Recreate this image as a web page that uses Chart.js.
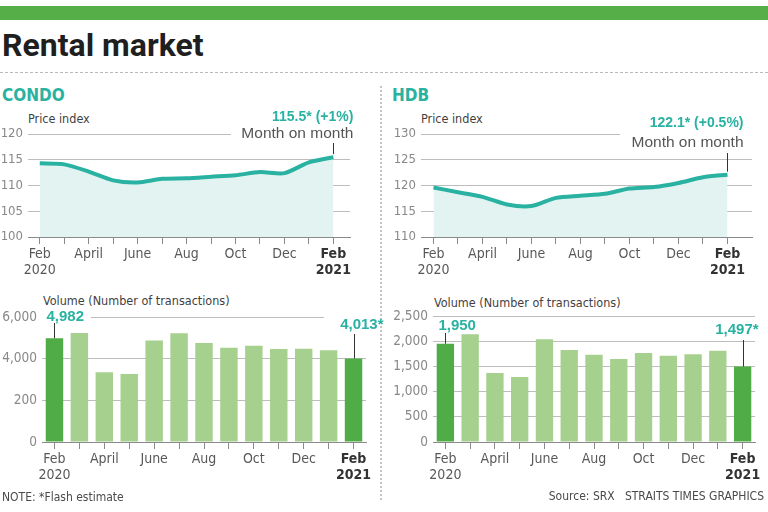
<!DOCTYPE html>
<html>
<head>
<meta charset="utf-8">
<script src="https://cdn.jsdelivr.net/npm/chart.js@4.4.0/dist/chart.umd.min.js"></script>
<style>
  html, body { margin: 0; padding: 0; background: #fff; }
  body { width: 768px; height: 512px; position: relative; overflow: hidden; }
  .abs { position: absolute; white-space: nowrap; }
  canvas.abs { display: block; }
  #topbar { left: 0; top: 6px; width: 768px; height: 14px; background: #55ae48; }
  #title { left: 2px; top: 29px; font: bold 32px/32px Roboto, 'Liberation Sans', sans-serif; color: #1f1f1f; }
  #hrule { left: 0; top: 72px; width: 768px; border-top: 1px dashed #b9b9b9; }
  #vrule { left: 380px; top: 86px; height: 414px; border-left: 2px dotted #c4c4c4; }
  .head { font: bold 17px/17px 'DejaVu Sans Condensed', sans-serif; color: #2ab2a1; }
  .sub { font: 12.5px/13px 'DejaVu Sans Condensed', sans-serif; color: #3f3f3f; }
  .foot { font: 12px/12px 'DejaVu Sans Condensed', sans-serif; color: #4a4a4a; }
</style>
</head>
<body>
<div id="topbar" class="abs"></div>
<div id="title" class="abs">Rental market</div>
<div id="hrule" class="abs"></div>
<div id="vrule" class="abs"></div>

<div class="abs head" style="left:2px; top:87px;">CONDO</div>
<div class="abs head" style="left:392px; top:87px;">HDB</div>
<div class="abs sub" style="left:28px; top:112px;">Price index</div>
<div class="abs sub" style="left:421px; top:112px;">Price index</div>
<div class="abs sub" style="left:43px; top:294px;">Volume (Number of transactions)</div>
<div class="abs sub" style="left:434px; top:296px;">Volume (Number of transactions)</div>

<canvas id="condoPrice" class="abs" width="376" height="186" style="left:0; top:96px;"></canvas>
<canvas id="hdbPrice" class="abs" width="384" height="186" style="left:384px; top:96px;"></canvas>
<canvas id="condoVolume" class="abs" width="384" height="200" style="left:0; top:300px;"></canvas>
<canvas id="hdbVolume" class="abs" width="384" height="200" style="left:384px; top:300px;"></canvas>

<div class="abs foot" style="left:2px; top:491px;">NOTE: *Flash estimate</div>
<div class="abs foot" style="right:4px; top:490px;">Source: SRX&nbsp;&nbsp;&nbsp;STRAITS TIMES GRAPHICS</div>

<script>
// --- data ---
const months = ['Feb 2020', 'Mar', 'Apr', 'May', 'Jun', 'Jul', 'Aug', 'Sep', 'Oct', 'Nov', 'Dec', 'Jan', 'Feb 2021'];
const monthTicks = [['Feb', '2020'], '', 'April', '', 'June', '', 'Aug', '', 'Oct', '', 'Dec', '', ['Feb', '2021']];

const condoPrice = [114.3, 114.1, 112.7, 111.0, 110.6, 111.3, 111.4, 111.7, 112.0, 112.6, 112.4, 114.5, 115.5];
const hdbPrice = [119.6, 118.7, 117.8, 116.3, 116.0, 117.6, 118.0, 118.4, 119.4, 119.7, 120.5, 121.6, 122.1];
const condoVolume = [4982, 5230, 3350, 3270, 4870, 5220, 4750, 4520, 4620, 4460, 4480, 4400, 4013];
const hdbVolume = [1950, 2140, 1370, 1290, 2040, 1825, 1730, 1645, 1765, 1710, 1740, 1810, 1497];

const condoPriceTicks = [100, 105, 110, 115, 120];
const hdbPriceTicks = [110, 115, 120, 125, 130];
const condoVolumeTicks = [0, 2000, 4000, 6000];
const condoVolumeTickLabels = ['0', '200', '4,000', '6,000'];
const hdbVolumeTicks = [0, 500, 1000, 1500, 2000, 2500];
const hdbVolumeTickLabels = ['0', '500', '1,000', '1,500', '2,000', '2,500'];

const condoPriceNote = ['115.5* (+1%)', 'Month on month'];
const hdbPriceNote = ['122.1* (+0.5%)', 'Month on month'];
const condoVolumeNotes = ['4,982', '4,013*'];
const hdbVolumeNotes = ['1,950', '1,497*'];

// --- styles ---
const NARROW = "'DejaVu Sans Condensed', sans-serif";
const WIDE = "'Liberation Sans', Arial, sans-serif";
const TEAL = '#29b2a1';
const FILL = '#e3f3f1';
const DARK_BAR = '#4fac47';
const LIGHT_BAR = '#a6d08e';
const GRID = '#bdbdbd';
const AXIS = '#8a8a8a';
const LAST = months.length - 1;

Chart.defaults.font.family = NARROW;
Chart.defaults.animation = false;

const xTickFont = (c) => ({ family: NARROW, size: 14, lineHeight: 16 / 14, weight: c.index === LAST ? 'bold' : 'normal' });
const xTickColor = (c) => c.index === LAST ? '#333' : '#585858';

// 그리드 끊김 + 주석(값, 지시선) 그리기
const notesPlugin = {
    id: 'notes',
    beforeDatasetsDraw(chart, args, opts) {
        const ctx = chart.ctx;
        ctx.save();
        ctx.fillStyle = '#fff';
        (opts.gaps || []).forEach(g => {
            const y = chart.scales.y.getPixelForValue(g.value);
            ctx.fillRect(g.x0, y - 3, g.x1 - g.x0, 6);
        });
        ctx.restore();
    },
    afterDatasetsDraw(chart, args, opts) {
        const ctx = chart.ctx;
        const meta = chart.getDatasetMeta(0);
        const top = chart.chartArea.top;
        ctx.save();
        (opts.items || []).forEach(it => {
            const el = meta.data[it.index];
            const x = Math.round(el.x) + 0.5;
            ctx.strokeStyle = '#333';
            ctx.lineWidth = 1;
            ctx.beginPath();
            ctx.moveTo(x, top + it.leaderFrom);
            ctx.lineTo(x, el.y - it.leaderGap);
            ctx.stroke();
            ctx.textAlign = it.align;
            ctx.textBaseline = 'middle';
            it.lines.forEach(l => {
                ctx.font = l.font;
                ctx.fillStyle = l.color;
                ctx.fillText(l.text, el.x + it.dx, top + l.dy);
            });
        });
        ctx.restore();
    }
};

function priceChart(id, values, yTicks, yWidth, padRight, xMin, xMax, notes) {
    return new Chart(document.getElementById(id), {
        type: 'line',
        data: {
            datasets: [{
                data: values.map((v, i) => ({ x: i, y: v })),
                borderColor: TEAL,
                borderWidth: 4,
                backgroundColor: FILL,
                fill: 'start',
                tension: 0.25,
                pointRadius: 0
            }]
        },
        options: {
            responsive: false,
            layout: { padding: { top: 38, right: padRight, left: 0, bottom: 0 } },
            plugins: { legend: { display: false }, tooltip: { enabled: false }, notes: notes },
            scales: {
                x: {
                    type: 'linear', min: xMin, max: xMax,
                    afterBuildTicks: s => { s.ticks = months.map((m, i) => ({ value: i })); },
                    afterFit: s => { s.height = 45; },
                    ticks: { callback: v => monthTicks[v], autoSkip: false, maxRotation: 0, padding: 2, font: xTickFont, color: xTickColor },
                    grid: { drawOnChartArea: false, tickLength: 7, color: AXIS },
                    border: { color: AXIS }
                },
                y: {
                    min: yTicks[0], max: yTicks[yTicks.length - 1],
                    afterBuildTicks: s => { s.ticks = yTicks.map(v => ({ value: v })); },
                    afterFit: s => { s.width = yWidth; },
                    ticks: { padding: 5, color: '#888', font: { size: 13 } },
                    grid: { color: GRID, drawTicks: false },
                    border: { display: false }
                }
            }
        },
        plugins: [notesPlugin]
    });
}

function volumeChart(id, values, yTicks, yLabels, yWidth, padTop, padRight, notes) {
    return new Chart(document.getElementById(id), {
        type: 'bar',
        data: {
            labels: months,
            datasets: [{
                data: values,
                backgroundColor: c => (c.dataIndex === 0 || c.dataIndex === LAST) ? DARK_BAR : LIGHT_BAR,
                barPercentage: 0.7,
                categoryPercentage: 1
            }]
        },
        options: {
            responsive: false,
            layout: { padding: { top: padTop, right: padRight, left: 0, bottom: 0 } },
            plugins: { legend: { display: false }, tooltip: { enabled: false }, notes: notes },
            scales: {
                x: {
                    offset: true,
                    afterFit: s => { s.height = 58; },
                    ticks: { callback: (v, i) => monthTicks[i], autoSkip: false, maxRotation: 0, padding: 2, font: xTickFont, color: xTickColor },
                    grid: { offset: false, drawOnChartArea: false, tickLength: 7, color: AXIS },
                    border: { color: AXIS }
                },
                y: {
                    min: yTicks[0], max: yTicks[yTicks.length - 1],
                    afterBuildTicks: s => { s.ticks = yTicks.map(v => ({ value: v })); },
                    afterFit: s => { s.width = yWidth; },
                    ticks: { callback: (v, i) => yLabels[i], padding: 5, color: '#888', font: { size: 13.5 } },
                    grid: { color: GRID, drawTicks: false },
                    border: { display: false }
                }
            }
        },
        plugins: [notesPlugin]
    });
}

const bigTeal = 'bold 14px ' + WIDE;
const mom = '15.5px ' + WIDE;
const barTeal = 'bold 15px ' + WIDE;

priceChart('condoPrice', condoPrice, condoPriceTicks, 28, 26, -0.48, 12.68, {
    gaps: [{ value: 120, x0: 231, x1: 352 }],
    items: [{ index: LAST, align: 'right', dx: 20, leaderFrom: 9, leaderGap: 3, lines: [
        { text: condoPriceNote[0], font: bigTeal, color: TEAL, dy: -17 },
        { text: condoPriceNote[1], font: mom, color: '#555', dy: 0 }
    ] }]
});

priceChart('hdbPrice', hdbPrice, hdbPriceTicks, 37, 16, -0.51, 13.0, {
    gaps: [{ value: 130, x0: 236, x1: 372 }],
    items: [{ index: LAST, align: 'right', dx: 16, leaderFrom: 19, leaderGap: 3, lines: [
        { text: hdbPriceNote[0], font: bigTeal, color: TEAL, dy: -11 },
        { text: hdbPriceNote[1], font: mom, color: '#555', dy: 9 }
    ] }]
});

volumeChart('condoVolume', condoVolume, condoVolumeTicks, condoVolumeTickLabels, 42, 17, 18, {
    gaps: [{ value: 6000, x0: 41, x1: 91 }, { value: 6000, x0: 324, x1: 370 }],
    items: [
        { index: 0, align: 'left', dx: -8, leaderFrom: 6, leaderGap: 0, lines: [{ text: condoVolumeNotes[0], font: barTeal, color: TEAL, dy: 0 }] },
        { index: LAST, align: 'right', dx: 30, leaderFrom: 17, leaderGap: 0, lines: [{ text: condoVolumeNotes[1], font: barTeal, color: TEAL, dy: 8 }] }
    ]
});

volumeChart('hdbVolume', hdbVolume, hdbVolumeTicks, hdbVolumeTickLabels, 49, 16, 13, {
    items: [
        { index: 0, align: 'left', dx: -7, leaderFrom: 17, leaderGap: 0, lines: [{ text: hdbVolumeNotes[0], font: barTeal, color: TEAL, dy: 10 }] },
        { index: LAST, align: 'right', dx: 16, leaderFrom: 24, leaderGap: 0, lines: [{ text: hdbVolumeNotes[1], font: barTeal, color: TEAL, dy: 14 }] }
    ]
});
</script>
</body>
</html>
